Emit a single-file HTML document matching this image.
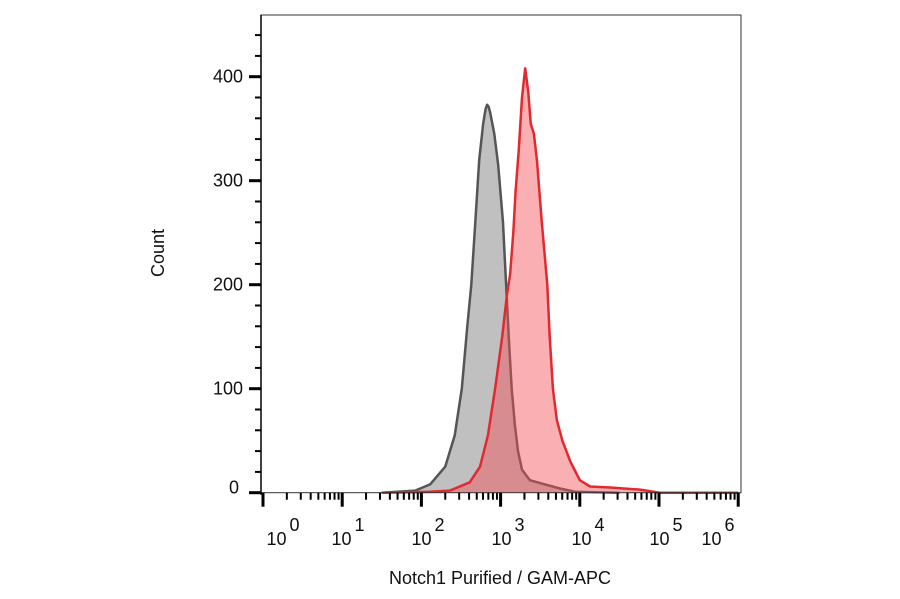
<!DOCTYPE html>
<html><head><meta charset="utf-8"><style>
body{margin:0;background:#fff;width:900px;height:594px;overflow:hidden;font-family:"Liberation Sans",Arial,sans-serif}
</style></head><body>
<svg id="chart" width="900" height="594" xmlns="http://www.w3.org/2000/svg">
<g id="marks"></g>
<g id="axes"></g>
<text x="164" y="253" font-size="18" text-anchor="middle" transform="rotate(-90 164 253)" fill="#111">Count</text>
<text x="500" y="584" font-size="18" text-anchor="middle" fill="#111">Notch1 Purified / GAM-APC</text>
</svg>
<script>
const yTicks=[0,100,200,300,400];
const xDecades=[0,1,2,3,4,5,6];
const xLabelPos=[283,348,428,508,588,666,718];
const grayLog=[1.5,1.92,2.11,2.30,2.42,2.51,2.58,2.63,2.68,2.73,2.78,2.81,2.83,2.85,2.87,2.92,2.97,3.03,3.07,3.11,3.14,3.18,3.22,3.27,3.37,3.56,3.75,3.94,4.5];
const grayCount=[0,2,8,25,55,100,160,200,260,320,355,369,373,371,365,345,315,260,200,140,100,65,40,22,12,8,4,1,0];
const redLog=[1.5,2.1,2.36,2.61,2.74,2.84,2.93,3.02,3.08,3.12,3.16,3.19,3.23,3.27,3.31,3.35,3.38,3.42,3.46,3.52,3.59,3.62,3.66,3.71,3.78,3.88,4.0,4.13,4.38,4.76,5.01,6];
const redCount=[0,1,2,10,25,55,100,150,190,210,250,290,330,380,408,385,355,345,319,260,200,150,100,70,50,30,12,6,5,3,0,0];
const L=261,R=741,T=15,B=492.7;
const x=v=>263+79.2*v;
const y=c=>B-c*1.04;
const NS="http://www.w3.org/2000/svg";
function mk(tag,attrs,parent){const e=document.createElementNS(NS,tag);for(const k in attrs)e.setAttribute(k,attrs[k]);parent.appendChild(e);return e;}
const marks=document.getElementById('marks'),axes=document.getElementById('axes');
function area(lg,ct){let d=`M${x(lg[0])},${y(0)}`;lg.forEach((v,i)=>d+=` L${x(v).toFixed(1)},${y(ct[i]).toFixed(1)}`);d+=` L${x(lg[lg.length-1])},${y(0)}`;return d;}
const g=mk('path',{d:area(grayLog,grayCount),fill:'rgba(150,150,150,0.6)',stroke:'#555','stroke-width':2.5,'stroke-linejoin':'round'},marks);


const r=mk('path',{d:area(redLog,redCount),fill:'rgba(245,80,85,0.45)',stroke:'#e02a30','stroke-width':2.5,'stroke-linejoin':'round'},marks);


const f=mk('rect',{x:L,y:T,width:R-L,height:B-T,fill:'none',stroke:'#333','stroke-width':1},axes);


mk('line',{x1:L,y1:T,x2:L,y2:B+2,stroke:'#000','stroke-width':1.5},axes);
for(let c=0;c<=440;c+=20){const maj=c%100===0;
 const t=mk('line',{x1:maj?L-12:L-6,x2:L,y1:y(c),y2:y(c),stroke:'#000','stroke-width':maj?3:2},axes);
 
 }
yTicks.forEach(c=>{const t=mk('text',{x:L-(c===0?22:18),y:y(c)+6-(c===0?5:0),'font-size':18,'text-anchor':'end',fill:'#111'},axes);t.textContent=c;
 
 });
xDecades.forEach((d,i)=>{
 const t=mk('line',{x1:x(d),x2:x(d),y1:B,y2:B+14,stroke:'#000','stroke-width':3},axes);
 
 
 if(i<6)for(let m=2;m<10;m++){const xx=x(d+Math.log10(m));const mt=mk('line',{x1:xx,x2:xx,y1:B,y2:B+7,stroke:'#000','stroke-width':2},axes);
  
  }
 const lb=mk('text',{x:xLabelPos[i],y:545,'font-size':18,'text-anchor':'middle',fill:'#111'},axes);
 
 
 lb.textContent='10';
 const ex=mk('tspan',{dx:3,dy:-14,'font-size':18},lb);ex.textContent=d;
});
</script>
</body></html>
